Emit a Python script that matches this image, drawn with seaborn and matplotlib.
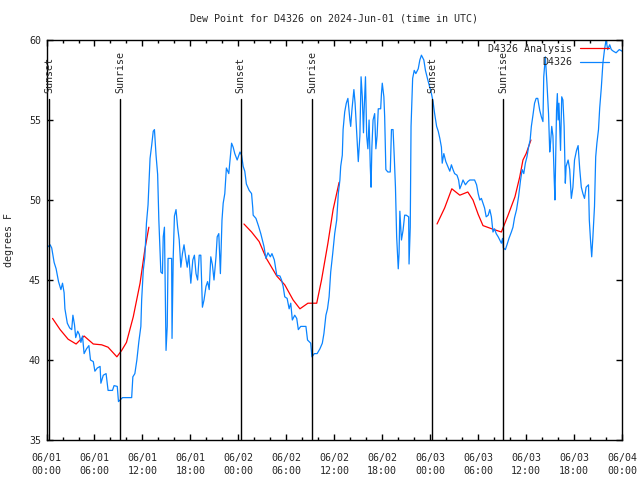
import matplotlib
matplotlib.use("Agg")
import pandas as pd
import matplotlib.pyplot as plt
import matplotlib.dates as mdates
import seaborn as sns

start = pd.Timestamp("2024-06-01 00:00")

# observed dew point (hours since 06/01 00:00 UTC, deg F)
obs_hours = [0.0, 0.45, 0.65, 0.95, 1.2, 1.5, 1.8, 2.0, 2.2, 2.3, 2.6, 2.9, 3.15, 3.3, 3.5, 3.65, 3.9, 4.1, 4.3, 4.5,
             4.7, 5.0, 5.3, 5.5, 5.85, 6.05, 6.35, 6.7, 6.8, 7.1, 7.45, 7.7, 8.25, 8.45, 8.85, 9.0, 9.5, 10.65, 10.8, 11.05,
             11.3, 11.55, 11.8, 11.9, 12.1, 12.3, 12.5, 12.7, 12.95, 13.15, 13.35, 13.5, 13.7, 13.9, 14.05, 14.3, 14.5, 14.6, 14.75, 14.8,
             14.95, 15.1, 15.2, 15.65, 15.7, 15.85, 16.0, 16.2, 16.4, 16.6, 16.8, 17.0, 17.2, 17.4, 17.6, 17.8, 18.05, 18.3, 18.5, 18.7,
             18.9, 19.1, 19.3, 19.5, 19.7, 19.95, 20.15, 20.35, 20.55, 20.75, 20.95, 21.2, 21.35, 21.55, 21.75, 21.95, 22.1, 22.3, 22.5, 22.8,
             23.0, 23.15, 23.35, 23.55, 23.85, 24.2, 24.4, 24.6, 24.8, 25.0, 25.35, 25.65, 25.8, 25.85, 26.2, 26.5, 26.8, 27.0, 27.2, 27.45,
             27.7, 28.0, 28.2, 28.5, 28.8, 29.2, 29.4, 29.6, 29.8, 30.1, 30.35, 30.55, 30.75, 31.05, 31.3, 31.5, 31.8, 32.45, 32.65, 32.85,
             33.05, 33.2, 33.5, 33.85, 34.2, 34.5, 34.7, 34.95, 35.15, 35.35, 35.55, 35.8, 36.05, 36.3, 36.5, 36.7, 36.8, 37.0, 37.1, 37.3,
             37.5, 37.7, 37.95, 38.05, 38.2, 38.45, 38.6, 38.85, 39.0, 39.2, 39.35, 39.5, 39.65, 39.73, 39.9, 40.05, 40.2, 40.35, 40.5, 40.6,
             40.7, 40.85, 41.05, 41.2, 41.35, 41.5, 41.8, 41.9, 42.0, 42.2, 42.3, 42.45, 42.7, 43.0, 43.15, 43.35, 43.5, 43.65, 43.8, 44.0,
             44.1, 44.2, 44.4, 44.6, 44.8, 45.0, 45.3, 45.35, 45.5, 45.6, 45.8, 46.0, 46.2, 46.5, 46.7, 46.9, 47.2, 47.4, 47.7, 48.15,
             48.35, 48.55, 48.8, 49.0, 49.2, 49.4, 49.5, 49.7, 49.95, 50.2, 50.45, 50.65, 50.85, 51.05, 51.35, 51.55, 51.7, 51.9, 52.1, 52.4,
             52.7, 52.95, 53.55, 53.8, 54.0, 54.2, 54.4, 54.6, 54.8, 55.0, 55.25, 55.45, 55.65, 55.85, 56.05, 56.25, 56.5, 56.7, 56.9, 57.05,
             57.15, 57.4, 57.6, 57.85, 58.15, 58.35, 58.55, 58.8, 59.05, 59.3, 59.5, 59.7, 59.9, 60.1, 60.3, 60.5, 60.65, 60.85, 61.05, 61.25,
             61.45, 61.7, 61.9, 62.1, 62.2, 62.4, 62.6, 62.8, 62.95, 63.05, 63.2, 63.35, 63.5, 63.6, 63.8, 63.9, 64.0, 64.1, 64.3, 64.45,
             64.6, 64.75, 64.9, 65.0, 65.25, 65.45, 65.65, 65.85, 66.05, 66.3, 66.5, 66.7, 66.9, 67.1, 67.3, 67.5, 67.8, 67.9, 68.05, 68.2,
             68.35, 68.55, 68.7, 68.85, 69.05, 69.2, 69.4, 69.6, 69.8, 70.0, 70.2, 70.45, 70.65, 70.9, 71.25, 71.65, 72.0]
obs_dewpt = [47.0, 47.2, 47.0, 46.1, 45.7, 44.9, 44.4, 44.8, 44.2, 43.2, 42.3, 42.0, 41.9, 42.8, 42.2, 41.4, 41.8, 41.6, 41.1, 41.5,
             40.4, 40.7, 40.9, 40.0, 39.9, 39.3, 39.5, 39.6, 38.55, 39.05, 39.15, 38.1, 38.1, 38.4, 38.35, 37.4, 37.65, 37.65, 38.95, 39.15,
             40.0, 41.15, 42.1, 43.75, 45.6, 46.45, 48.55, 49.7, 52.6, 53.4, 54.3, 54.4, 52.8, 51.6, 48.75, 45.5, 45.4, 47.7, 48.3, 46.25,
             40.6, 42.1, 46.35, 46.35, 41.35, 46.45, 49.0, 49.4, 48.3, 47.5, 45.8, 46.65, 47.2, 46.45, 45.8, 46.55, 44.8, 46.25, 46.55, 45.4,
             45.0, 46.55, 46.55, 43.3, 43.75, 44.6, 44.9, 44.4, 46.45, 45.95, 45.0, 46.45, 47.7, 47.9, 45.4, 48.75, 49.8, 50.4, 52.0, 51.65,
             52.7, 53.55, 53.3, 52.9, 52.5, 53.0, 52.8, 52.1, 51.8, 51.0, 50.6, 50.4, 49.5, 49.05, 48.85, 48.4, 47.9, 47.5, 47.1, 46.35,
             46.7, 46.45, 46.65, 46.25, 45.3, 45.25, 45.0, 44.6, 43.95, 43.85, 43.2, 43.55, 42.5, 42.8, 42.6, 41.9, 42.1, 42.1, 41.25, 41.15,
             41.05, 40.2, 40.4, 40.4, 40.7, 41.05, 41.65, 42.8, 43.2, 43.95, 45.5, 46.65, 47.9, 48.75, 50.4, 51.25, 52.1, 52.8, 54.4, 55.5,
             56.05, 56.35, 55.0, 54.6, 55.6, 56.9, 56.05, 53.75, 52.4, 54.0, 57.7, 56.45, 54.2, 55.6, 57.7, 54.0, 53.2, 55.0, 52.1, 50.8,
             53.3, 55.0, 55.4, 53.2, 54.0, 55.7, 55.7, 56.65, 57.3, 56.45, 55.2, 51.9, 51.75, 51.75, 54.4, 54.4, 52.7, 50.8, 47.7, 45.7,
             46.65, 49.3, 47.5, 48.1, 49.05, 49.05, 48.95, 46.0, 48.3, 54.6, 57.6, 58.1, 57.9, 58.2, 58.75, 59.05, 58.75, 58.1, 57.5, 56.65,
             56.15, 55.4, 54.6, 54.3, 53.85, 53.3, 52.3, 52.9, 52.4, 52.1, 51.8, 52.2, 51.9, 51.65, 51.55, 51.25, 50.7, 50.95, 51.25, 50.95,
             51.15, 51.25, 51.25, 50.95, 50.4, 50.0, 50.1, 49.8, 49.5, 48.95, 49.05, 49.4, 48.95, 48.0, 48.2, 47.9, 47.7, 47.5, 47.3, 47.6,
             47.0, 46.9, 47.2, 47.6, 48.0, 48.3, 48.9, 49.4, 50.2, 51.25, 51.9, 51.65, 52.3, 52.7, 53.3, 53.75, 54.6, 55.3, 56.05, 56.35,
             56.35, 55.6, 55.2, 54.9, 57.7, 58.95, 57.3, 55.4, 53.0, 53.55, 54.6, 54.0, 51.45, 50.0, 55.6, 56.65, 55.0, 56.05, 53.1, 56.45,
             56.25, 54.6, 51.05, 52.1, 52.5, 51.9, 50.1, 50.8, 52.5, 53.1, 53.4, 51.95, 50.8, 50.4, 50.1, 50.8, 50.95, 48.75, 47.5, 46.45,
             47.7, 49.6, 52.7, 53.55, 54.4, 55.75, 57.0, 58.55, 59.4, 60.0, 59.4, 59.7, 59.4, 59.3, 59.2, 59.4, 59.3]

# analysis, three separate runs
ana1_hours = [0.75, 1.7, 2.7, 3.7, 4.7, 5.85, 6.9, 7.7, 8.8, 9.4, 10.0, 10.85, 11.7, 12.3, 12.8]
ana1_dewpt = [42.6, 41.9, 41.3, 41.0, 41.5, 41.0, 40.95, 40.8, 40.2, 40.6, 41.1, 42.7, 44.8, 46.9, 48.3]
ana2_hours = [24.7, 25.65, 26.6, 27.5, 28.8, 29.8, 30.85, 31.7, 32.7, 33.8, 34.4, 35.2, 35.85, 36.6]
ana2_dewpt = [48.5, 48.0, 47.4, 46.35, 45.25, 44.7, 43.75, 43.2, 43.55, 43.55, 45.0, 47.3, 49.4, 51.1]
ana3_hours = [48.85, 49.8, 50.7, 51.7, 52.7, 53.35, 54.0, 54.6, 55.7, 56.9, 57.7, 58.6, 59.2, 59.6, 60.0, 60.6]
ana3_dewpt = [48.5, 49.5, 50.7, 50.3, 50.5, 50.0, 49.1, 48.4, 48.2, 48.0, 49.0, 50.2, 51.45, 52.5, 52.9, 53.75]

sun_hours = [0.33, 9.23, 24.27, 33.23, 48.23, 57.1]
sun_labels = ["Sunset", "Sunrise", "Sunset", "Sunrise", "Sunset", "Sunrise"]

frames = [pd.DataFrame({"hours": ana1_hours, "dewpt": ana1_dewpt, "series": "D4326 Analysis", "run": 1}),
          pd.DataFrame({"hours": ana2_hours, "dewpt": ana2_dewpt, "series": "D4326 Analysis", "run": 2}),
          pd.DataFrame({"hours": ana3_hours, "dewpt": ana3_dewpt, "series": "D4326 Analysis", "run": 3}),
          pd.DataFrame({"hours": obs_hours, "dewpt": obs_dewpt, "series": "D4326", "run": 0})]
df = pd.concat(frames, ignore_index=True)
df["time"] = start + pd.to_timedelta(df["hours"], unit="h")

FS = 7.2

sns.set_style("ticks")
plt.rcParams["font.family"] = ["DejaVu Sans Mono"]
plt.rcParams["font.size"] = FS

fig = plt.figure(figsize=(6.4, 4.8), dpi=100)
ax = fig.add_axes([0.0727, 0.0833, 0.8993, 0.8334])

sns.lineplot(data=df, x="time", y="dewpt", hue="series", units="run", estimator=None,
             hue_order=["D4326 Analysis", "D4326"],
             palette={"D4326 Analysis": "#ff0000", "D4326": "#0a84ff"},
             linewidth=0.9, ax=ax)

# sunrise / sunset markers
for h, lab in zip(sun_hours, sun_labels):
    t = start + pd.Timedelta(hours=h)
    ax.axvline(t, ymin=0, ymax=(56.3 - 35) / 25, color="black", lw=1)
    ax.text(t, 56.7, lab, rotation=90, ha="center", va="bottom", fontsize=FS)

ax.set_xlim(start, start + pd.Timedelta(hours=72))
ax.set_ylim(35, 60)
ax.set_yticks(range(35, 61, 5))
ax.xaxis.set_major_locator(mdates.HourLocator(byhour=[0, 6, 12, 18]))
ax.xaxis.set_minor_locator(mdates.HourLocator(interval=2))
ax.xaxis.set_major_formatter(mdates.DateFormatter("%m/%d\n%H:%M"))
ax.tick_params(which="both", direction="in", top=True, right=True, width=1, color="black", labelsize=FS)
ax.tick_params(which="major", length=4)
ax.tick_params(which="minor", length=2.5)
ax.tick_params(axis="x", pad=9)
ax.tick_params(axis="y", pad=4)
plt.setp(ax.get_xticklabels(), linespacing=1.45)
for s in ax.spines.values():
    s.set_color("black")
    s.set_linewidth(1)

ax.set_xlabel("")
ax.set_ylabel("degrees F", fontsize=FS, labelpad=11)
ax.set_title("Dew Point for D4326 on 2024-Jun-01 (time in UTC)", fontsize=FS, pad=13)

old = ax.get_legend()
handles = old.legend_handles
labels = [t.get_text() for t in old.get_texts()]
ax.legend(handles, labels, loc="upper right", bbox_to_anchor=(0.978, 0.99), markerfirst=False,
          frameon=False, fontsize=FS, handlelength=2.9, handletextpad=0.8, labelspacing=0.35,
          borderpad=0, borderaxespad=0)

fig.savefig("out.png", dpi=100)
